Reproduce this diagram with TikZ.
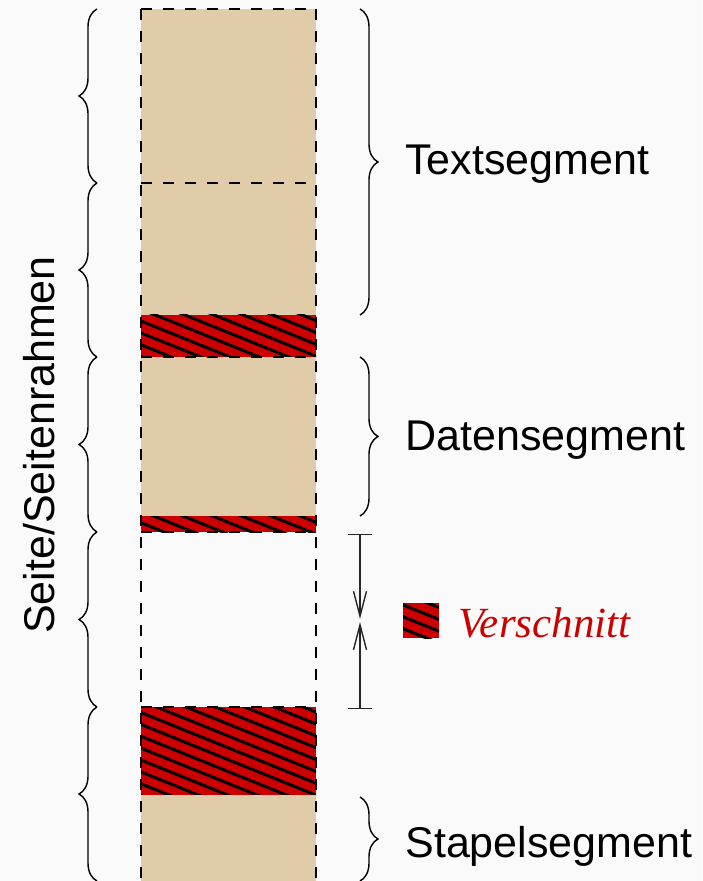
\documentclass[tikz,border=0pt]{standalone}
\usepackage{fontspec}
\setmainfont{Liberation Sans}
\newfontfamily\serifit{Liberation Serif}
\usetikzlibrary{decorations.pathreplacing,patterns.meta,arrows.meta}

\definecolor{segtan}{RGB}{224,204,168}
\definecolor{vred}{RGB}{204,0,0}
\definecolor{bggray}{RGB}{250,250,250}

\tikzset{
  seitenrand/.style={draw=black,dash pattern=on 5.5pt off 5.5pt,line width=0.75pt},
  verschnitt/.style={preaction={fill=vred},pattern={Lines[angle=-22,distance=5.5pt,line width=1.5pt]},pattern color=black},
  klammer/.style={draw=black,line width=0.7pt,decorate,decoration={brace,amplitude=9pt}},
  beschriftung/.style={inner sep=0pt,font=\fontsize{21.5}{26}\selectfont}
}

\begin{document}
\begin{tikzpicture}[x=0.5pt,y=-0.5pt]

\fill[bggray] (0,0) rectangle (702,881);
\useasboundingbox (0,0) rectangle (702,881);

%segmente
\fill[segtan] (141,9) rectangle (316,315);
\path[verschnitt] (141,315) rectangle (316,357);
\fill[segtan] (141,357) rectangle (316,516);
\path[verschnitt] (141,516) rectangle (316,532);
\path[verschnitt] (141,707) rectangle (316,795);
\fill[segtan] (141,795) rectangle (316,881);

%seitengrenzen
\foreach \y in {9,183,357,532,707}
  \path[seitenrand] (141,\y) -- (316,\y);
\path[seitenrand] (141,9) -- (141,881);
\path[seitenrand] (316,9) -- (316,881);

%seiten
\foreach \a/\b in {9/183,183/357,357/532,532/707,707/881}
  \path[klammer] (97,\b) -- (97,\a);
\node[beschriftung,rotate=90,anchor=base] (seite) at (54,445) {Seite/Seitenrahmen};

%textsegment
\coordinate (ts1) at (360,9);
\coordinate (ts2) at (360,315);
\path[klammer] (ts1) -- (ts2);
\node[beschriftung,anchor=base west] (ts) at (405,175) {Textsegment};

%datensegment
\coordinate (ds1) at (360,357);
\coordinate (ds2) at (360,516);
\path[klammer] (ds1) -- (ds2);
\node[beschriftung,anchor=base west] (ds) at (405,450) {Datensegment};

%stapelsegment
\coordinate (ss1) at (360,797);
\coordinate (ss2) at (360,881);
\path[klammer] (ss1) -- (ss2);
\node[beschriftung,anchor=base west] (ss) at (405,857) {Stapelsegment};

%luecke
\coordinate (l1) at (360,534);
\coordinate (l2) at (360,709);
\coordinate (m1) at (360,619);
\coordinate (m2) at (360,622);
\path[draw=black!85,line width=0.7pt,{Bar[width=12pt]}-{Straight Barb[length=12.5pt,width=6.5pt]}] (l1) -- (m1);
\path[draw=black!85,line width=0.7pt,{Bar[width=12pt]}-{Straight Barb[length=12.5pt,width=6.5pt]}] (l2) -- (m2);

%legende
\path[verschnitt] (403,603) rectangle (439,638);
\node[beschriftung,anchor=base west,text=vred,font=\serifit\itshape\fontsize{21.5}{26}\selectfont] (vs) at (458,637) {Verschnitt};

\end{tikzpicture}
\end{document}
